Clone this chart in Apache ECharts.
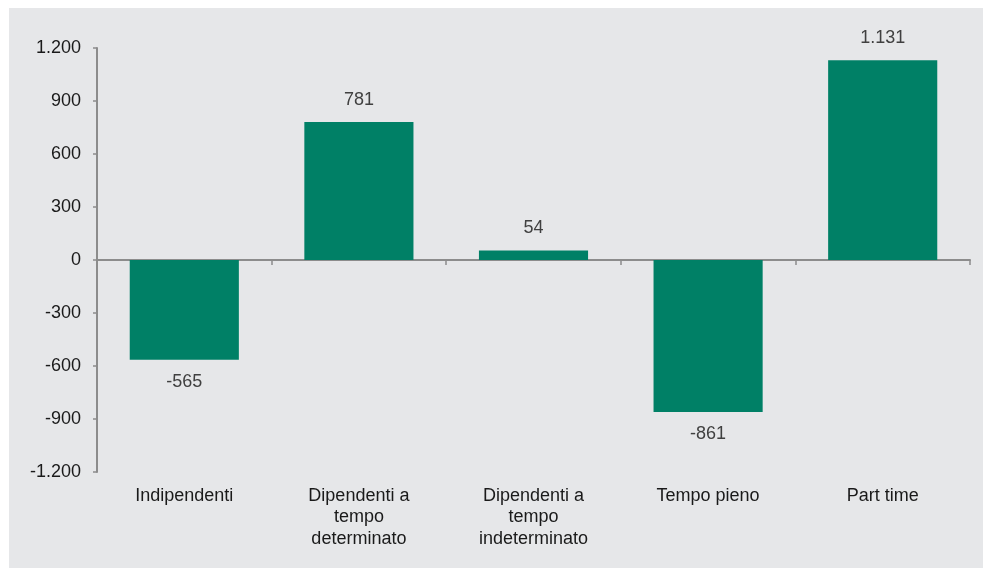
<!DOCTYPE html>
<html>
<head>
<meta charset="utf-8">
<script src="https://cdn.jsdelivr.net/npm/echarts@6/dist/echarts.min.js"></script>
<style>
html,body{margin:0;padding:0;background:#fff;}
#wrap{position:absolute;left:9px;top:8px;width:974px;height:560px;background:#e6e7e9;}
#chart{position:absolute;left:0;top:0;width:983px;height:568px;}
</style>
</head>
<body>
<div id="wrap"></div>
<div id="chart"></div>
<script>
const categories = ['Indipendenti', 'Dipendenti a\ntempo\ndeterminato', 'Dipendenti a\ntempo\nindeterminato', 'Tempo pieno', 'Part time'];
const values = [-565, 781, 54, -861, 1131];
const yTicks = { min: -1200, max: 1200, interval: 300 };

function fmt(v) {
  const s = Math.abs(v).toString().replace(/\B(?=(\d{3})+(?!\d))/g, '.');
  return (v < 0 ? '-' : '') + s;
}

const chart = echarts.init(document.getElementById('chart'), null, { renderer: 'canvas' });
const font = 'Liberation Sans, Arial, sans-serif';
chart.setOption({
  backgroundColor: 'transparent',
  animation: false,
  grid: { left: 97, right: 13, top: 48, bottom: 96, containLabel: false },
  xAxis: [
    {
      type: 'category', data: categories, position: 'bottom',
      axisLine: { show: true, onZero: true, lineStyle: { color: '#8c8c8c', width: 2 } },
      axisTick: { show: true, length: 5, lineStyle: { color: '#8c8c8c', width: 1.5 } },
      axisLabel: { show: false }
    },
    {
      type: 'category', data: categories, position: 'bottom',
      axisLine: { show: false, onZero: false }, axisTick: { show: false },
      axisLabel: { color: '#1a1a1a', fontSize: 18, fontFamily: font, lineHeight: 21.5, margin: 13, interval: 0 }
    }
  ],
  yAxis: {
    type: 'value', min: yTicks.min, max: yTicks.max, interval: yTicks.interval,
    axisLine: { show: true, lineStyle: { color: '#8c8c8c', width: 2 } },
    axisTick: { show: true, length: 4, lineStyle: { color: '#8c8c8c', width: 1.5 } },
    splitLine: { show: false },
    axisLabel: { color: '#1a1a1a', fontSize: 18, fontFamily: font, margin: 16, formatter: fmt }
  },
  series: [{
    type: 'bar', xAxisIndex: 0,
    barCategoryGap: '37.5%',
    data: values.map(v => ({
      value: v,
      label: { position: v >= 0 ? 'top' : 'bottom' }
    })),
    itemStyle: { color: '#008066' },
    label: {
      show: true, distance: 13, color: '#404040', fontSize: 18, fontFamily: font,
      formatter: p => fmt(p.value)
    }
  }]
});
</script>
</body>
</html>
